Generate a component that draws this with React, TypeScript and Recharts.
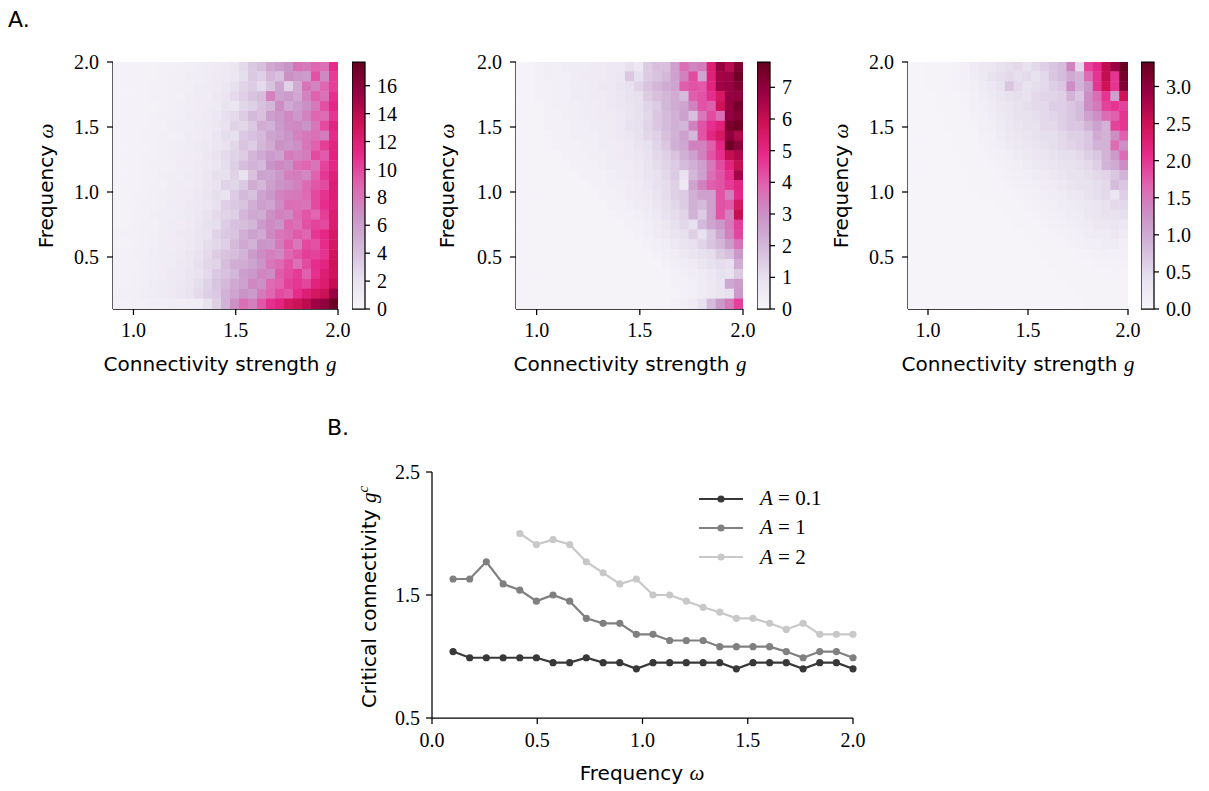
import React from "react";
import { ScatterChart, Scatter, XAxis, YAxis, BarChart, Bar, LineChart, Line, Legend } from "recharts";

const SANS = '"DejaVu Sans", sans-serif';
const SERIF = '"Liberation Serif", serif';

// heatmap grid: column centres (connectivity g) and row centres (frequency, top row first)
const G_CENTERS = [
  0.922, 0.966, 1.01, 1.054, 1.098, 1.142, 1.186, 1.23, 1.274, 1.318, 1.362, 1.406, 1.45,
  1.494, 1.538, 1.582, 1.626, 1.67, 1.714, 1.758, 1.802, 1.846, 1.89, 1.934, 1.978,
];
const OMEGA_ROWS = [
  1.962, 1.886, 1.81, 1.734, 1.658, 1.582, 1.506, 1.43, 1.354, 1.278, 1.202, 1.126, 1.05,
  0.974, 0.898, 0.822, 0.746, 0.67, 0.594, 0.518, 0.442, 0.366, 0.29, 0.214, 0.138,
];

// amplitude A = 0.1
const MAP_A01 = [
  [0.3, 0.3, 0.3, 0.4, 0.4, 0.5, 0.5, 0.6, 0.7, 0.8, 1.0, 1.1, 1.3, 1.6, 2.6, 3.6, 4.0, 5.4, 6.0, 6.6, 8.2, 7.8, 8.8, 8.4, 11.0],
  [0.3, 0.3, 0.3, 0.4, 0.4, 0.5, 0.6, 0.6, 0.8, 0.8, 1.0, 1.2, 1.4, 1.6, 2.4, 3.6, 3.2, 4.6, 4.0, 6.8, 6.4, 6.1, 9.6, 7.2, 10.4],
  [0.3, 0.3, 0.4, 0.4, 0.5, 0.5, 0.6, 0.7, 0.7, 0.9, 1.1, 1.3, 1.5, 2.2, 3.0, 3.4, 2.6, 3.8, 5.6, 3.0, 5.3, 8.1, 7.4, 8.8, 10.2],
  [0.3, 0.3, 0.3, 0.4, 0.5, 0.5, 0.6, 0.6, 0.8, 0.9, 1.0, 1.4, 1.8, 2.6, 3.2, 3.8, 4.2, 7.6, 5.8, 6.2, 5.5, 7.4, 9.0, 8.3, 10.8],
  [0.3, 0.3, 0.4, 0.4, 0.4, 0.5, 0.6, 0.7, 0.8, 1.0, 1.1, 1.2, 2.0, 1.8, 2.8, 3.2, 4.0, 4.6, 7.0, 5.4, 6.1, 6.8, 7.9, 9.6, 11.2],
  [0.3, 0.3, 0.3, 0.4, 0.5, 0.6, 0.6, 0.7, 0.9, 1.0, 1.2, 1.6, 2.2, 2.6, 3.4, 4.4, 4.0, 6.0, 6.4, 7.2, 6.3, 7.5, 8.8, 8.5, 10.6],
  [0.3, 0.3, 0.4, 0.4, 0.5, 0.5, 0.7, 0.8, 0.8, 1.1, 1.2, 1.5, 2.0, 3.0, 2.8, 3.6, 5.0, 4.8, 6.2, 7.0, 7.2, 6.6, 8.1, 9.8, 11.4],
  [0.3, 0.3, 0.3, 0.5, 0.5, 0.6, 0.6, 0.7, 0.9, 1.0, 1.3, 1.8, 2.4, 2.2, 3.6, 4.0, 4.4, 5.6, 6.0, 6.6, 7.5, 7.9, 8.3, 7.7, 11.0],
  [0.3, 0.3, 0.4, 0.4, 0.5, 0.6, 0.7, 0.8, 0.9, 1.2, 1.4, 1.6, 2.0, 2.8, 3.8, 3.4, 4.6, 5.2, 6.8, 6.4, 6.8, 8.1, 9.0, 10.3, 11.4],
  [0.3, 0.3, 0.4, 0.5, 0.5, 0.6, 0.7, 0.8, 1.0, 1.1, 1.5, 2.0, 2.6, 3.0, 3.4, 4.6, 5.4, 6.2, 5.8, 7.8, 7.4, 7.7, 9.8, 9.2, 11.6],
  [0.4, 0.4, 0.4, 0.5, 0.6, 0.6, 0.7, 0.9, 1.0, 1.2, 1.4, 1.8, 2.4, 3.2, 4.2, 4.8, 4.4, 6.6, 7.2, 6.8, 8.3, 8.8, 8.1, 10.1, 11.2],
  [0.3, 0.3, 0.4, 0.5, 0.5, 0.7, 0.8, 0.8, 1.1, 1.3, 1.6, 2.2, 2.2, 3.0, 2.0, 4.0, 5.8, 5.6, 6.4, 7.6, 7.7, 7.2, 9.0, 10.5, 11.8],
  [0.4, 0.4, 0.4, 0.5, 0.6, 0.6, 0.8, 0.9, 1.0, 1.2, 1.6, 2.0, 3.0, 2.8, 3.6, 5.2, 4.6, 6.0, 6.6, 7.0, 7.5, 8.5, 9.4, 9.8, 12.0],
  [0.4, 0.4, 0.5, 0.5, 0.6, 0.7, 0.8, 1.0, 1.1, 1.4, 1.8, 2.4, 2.0, 3.4, 4.4, 4.0, 5.6, 6.4, 7.4, 7.8, 7.9, 8.6, 9.9, 10.7, 12.0],
  [0.4, 0.4, 0.4, 0.6, 0.6, 0.7, 0.9, 1.0, 1.2, 1.4, 1.6, 2.2, 3.2, 3.6, 3.8, 5.0, 6.0, 5.6, 7.0, 8.4, 8.3, 8.1, 9.8, 10.9, 11.8],
  [0.4, 0.4, 0.5, 0.5, 0.7, 0.8, 0.8, 1.1, 1.2, 1.5, 2.0, 2.6, 3.0, 3.2, 4.6, 5.4, 5.2, 6.8, 7.6, 7.2, 8.6, 9.4, 8.8, 10.3, 12.2],
  [0.4, 0.4, 0.5, 0.6, 0.6, 0.8, 0.9, 1.0, 1.3, 1.6, 2.2, 2.4, 3.4, 4.0, 4.2, 4.6, 6.2, 7.0, 6.6, 8.8, 8.3, 9.6, 10.1, 9.9, 12.2],
  [0.5, 0.5, 0.5, 0.6, 0.7, 0.8, 1.0, 1.2, 1.4, 1.7, 2.0, 3.0, 3.6, 3.8, 5.0, 5.8, 5.4, 7.2, 8.0, 8.4, 9.2, 8.8, 10.5, 11.2, 12.6],
  [0.4, 0.4, 0.5, 0.6, 0.7, 0.9, 1.0, 1.1, 1.4, 1.8, 2.4, 2.8, 3.2, 4.4, 5.4, 4.8, 6.6, 6.4, 7.8, 9.2, 7.9, 9.9, 9.6, 11.0, 12.6],
  [0.5, 0.5, 0.6, 0.6, 0.8, 0.9, 1.1, 1.3, 1.6, 2.0, 2.6, 3.4, 3.8, 4.2, 4.8, 6.2, 7.0, 7.6, 7.2, 8.8, 9.4, 10.3, 10.1, 10.7, 13.0],
  [0.5, 0.5, 0.5, 0.7, 0.8, 1.0, 1.1, 1.4, 1.6, 2.2, 2.8, 3.0, 4.2, 5.0, 5.2, 5.8, 6.6, 8.0, 8.6, 9.6, 8.3, 9.8, 10.9, 11.4, 13.2],
  [0.5, 0.5, 0.6, 0.7, 0.8, 1.0, 1.2, 1.4, 1.8, 2.0, 2.6, 3.6, 4.0, 4.6, 6.0, 6.4, 7.4, 7.0, 9.2, 9.8, 10.4, 9.0, 10.8, 12.0, 13.0],
  [0.5, 0.5, 0.6, 0.7, 0.9, 1.1, 1.2, 1.5, 1.8, 2.4, 3.0, 3.8, 4.4, 5.4, 5.8, 7.2, 6.8, 8.6, 9.0, 10.2, 10.6, 10.0, 11.6, 12.2, 13.6],
  [0.6, 0.6, 0.6, 0.8, 0.9, 1.1, 1.3, 1.6, 2.0, 2.6, 3.2, 3.6, 4.8, 5.6, 6.6, 6.2, 7.8, 8.8, 9.8, 9.4, 11.0, 12.0, 12.8, 13.4, 15.4],
  [0.5, 0.5, 0.6, 0.6, 0.7, 0.7, 0.8, 0.8, 0.9, 1.0, 2.0, 3.2, 4.8, 6.8, 8.4, 7.6, 9.4, 10.8, 11.5, 12.8, 13.3, 14.0, 15.3, 15.8, 17.5],
];

// amplitude A = 1
const MAP_A1 = [
  [0.1, 0.1, 0.2, 0.3, 0.3, 0.4, 0.4, 0.4, 0.5, 0.5, 0.6, 0.6, 1.0, 0.6, 1.5, 1.8, 1.8, 2.6, 3.7, 3.2, 3.4, 5.3, 6.9, 6.2, 7.3],
  [0.1, 0.1, 0.2, 0.3, 0.3, 0.3, 0.4, 0.5, 0.5, 0.5, 0.6, 0.7, 1.6, 1.0, 1.5, 1.7, 2.0, 2.6, 3.3, 4.3, 2.5, 5.2, 6.6, 6.7, 7.6],
  [0.1, 0.1, 0.2, 0.2, 0.3, 0.3, 0.4, 0.4, 0.5, 0.6, 0.6, 0.8, 0.9, 1.3, 1.7, 2.0, 2.3, 2.5, 4.0, 4.2, 4.1, 5.1, 6.7, 6.8, 7.3],
  [0.1, 0.1, 0.2, 0.2, 0.3, 0.3, 0.4, 0.4, 0.5, 0.5, 0.6, 0.7, 0.9, 1.0, 1.5, 1.8, 2.0, 2.3, 1.9, 4.0, 4.2, 4.8, 5.6, 6.9, 7.0],
  [0.1, 0.1, 0.1, 0.2, 0.3, 0.3, 0.3, 0.4, 0.4, 0.5, 0.6, 0.7, 0.8, 1.0, 1.3, 1.5, 2.0, 2.3, 2.5, 3.3, 4.2, 4.0, 5.8, 6.9, 7.5],
  [0.1, 0.1, 0.1, 0.2, 0.2, 0.3, 0.3, 0.4, 0.4, 0.5, 0.5, 0.6, 0.8, 1.0, 1.2, 1.6, 1.9, 2.2, 2.6, 1.8, 3.5, 4.3, 3.7, 6.9, 7.2],
  [0.1, 0.1, 0.1, 0.2, 0.2, 0.2, 0.3, 0.3, 0.4, 0.4, 0.5, 0.6, 0.9, 1.0, 1.3, 1.6, 1.9, 2.2, 2.0, 3.3, 4.2, 4.8, 5.2, 7.4, 7.6],
  [0.1, 0.1, 0.1, 0.1, 0.2, 0.2, 0.3, 0.3, 0.3, 0.4, 0.5, 0.6, 0.7, 0.9, 1.2, 1.4, 1.8, 2.1, 2.6, 2.0, 4.2, 5.0, 5.6, 7.0, 6.4],
  [0.1, 0.1, 0.1, 0.1, 0.2, 0.2, 0.2, 0.3, 0.3, 0.4, 0.4, 0.5, 0.6, 0.8, 1.0, 1.3, 1.6, 2.2, 2.4, 3.3, 3.3, 4.0, 5.0, 7.6, 7.1],
  [0.1, 0.1, 0.1, 0.1, 0.1, 0.2, 0.2, 0.2, 0.3, 0.3, 0.4, 0.5, 0.6, 0.7, 0.9, 1.2, 1.4, 1.7, 2.2, 2.6, 3.3, 4.2, 4.8, 6.0, 6.4],
  [0.1, 0.1, 0.1, 0.1, 0.1, 0.1, 0.2, 0.2, 0.2, 0.3, 0.4, 0.4, 0.5, 0.6, 0.8, 1.1, 1.3, 1.5, 1.9, 2.2, 2.6, 3.5, 4.3, 5.1, 6.0],
  [0.1, 0.1, 0.1, 0.1, 0.1, 0.1, 0.1, 0.2, 0.2, 0.2, 0.3, 0.4, 0.5, 0.6, 0.8, 0.9, 1.2, 1.5, 0.9, 2.0, 2.6, 3.7, 4.2, 4.8, 6.6],
  [0.1, 0.1, 0.1, 0.1, 0.1, 0.1, 0.1, 0.1, 0.2, 0.2, 0.3, 0.3, 0.4, 0.5, 0.7, 0.9, 1.1, 1.4, 0.6, 2.5, 3.3, 4.0, 4.2, 4.6, 5.0],
  [0.1, 0.1, 0.1, 0.1, 0.1, 0.1, 0.1, 0.1, 0.1, 0.2, 0.2, 0.3, 0.4, 0.5, 0.6, 0.8, 1.1, 1.4, 1.5, 2.2, 2.6, 2.6, 4.2, 3.3, 4.9],
  [0.1, 0.1, 0.1, 0.1, 0.1, 0.1, 0.1, 0.1, 0.1, 0.1, 0.2, 0.2, 0.3, 0.4, 0.5, 0.7, 1.0, 1.2, 1.5, 2.2, 1.9, 2.6, 4.2, 4.1, 5.6],
  [0.1, 0.1, 0.1, 0.1, 0.1, 0.1, 0.1, 0.1, 0.1, 0.1, 0.1, 0.2, 0.2, 0.3, 0.4, 0.6, 0.9, 1.1, 1.3, 2.1, 1.5, 2.6, 4.2, 3.3, 6.0],
  [0.1, 0.1, 0.1, 0.1, 0.1, 0.1, 0.1, 0.1, 0.1, 0.1, 0.1, 0.1, 0.2, 0.2, 0.3, 0.5, 0.7, 1.0, 1.2, 1.0, 1.9, 2.5, 2.8, 3.5, 4.5],
  [0.1, 0.1, 0.1, 0.1, 0.1, 0.1, 0.1, 0.1, 0.1, 0.1, 0.1, 0.1, 0.1, 0.2, 0.3, 0.4, 0.6, 0.8, 1.0, 1.4, 0.9, 1.6, 2.4, 3.3, 4.4],
  [0.1, 0.1, 0.1, 0.1, 0.1, 0.1, 0.1, 0.1, 0.1, 0.1, 0.1, 0.1, 0.1, 0.1, 0.2, 0.3, 0.4, 0.6, 0.8, 1.0, 1.3, 1.7, 2.0, 2.7, 3.6],
  [0.1, 0.1, 0.1, 0.1, 0.1, 0.1, 0.1, 0.1, 0.1, 0.1, 0.1, 0.1, 0.1, 0.1, 0.1, 0.2, 0.3, 0.4, 0.6, 0.8, 1.0, 1.1, 1.5, 1.8, 2.8],
  [0.1, 0.1, 0.1, 0.1, 0.1, 0.1, 0.1, 0.1, 0.1, 0.1, 0.1, 0.1, 0.1, 0.1, 0.1, 0.1, 0.2, 0.3, 0.4, 0.5, 0.7, 0.9, 1.1, 1.0, 2.3],
  [0.1, 0.1, 0.1, 0.1, 0.1, 0.1, 0.1, 0.1, 0.1, 0.1, 0.1, 0.1, 0.1, 0.1, 0.1, 0.1, 0.1, 0.2, 0.3, 0.4, 0.5, 0.7, 0.9, 0.8, 1.5],
  [0.1, 0.1, 0.1, 0.1, 0.1, 0.1, 0.1, 0.1, 0.1, 0.1, 0.1, 0.1, 0.1, 0.1, 0.1, 0.1, 0.1, 0.2, 0.2, 0.3, 0.4, 0.6, 0.8, 2.4, 2.7],
  [0.1, 0.1, 0.1, 0.1, 0.1, 0.1, 0.1, 0.1, 0.1, 0.1, 0.1, 0.1, 0.1, 0.1, 0.1, 0.1, 0.1, 0.1, 0.2, 0.3, 0.4, 0.6, 0.8, 1.0, 2.8],
  [0.1, 0.1, 0.1, 0.1, 0.1, 0.1, 0.1, 0.1, 0.1, 0.1, 0.1, 0.1, 0.1, 0.1, 0.1, 0.1, 0.1, 0.2, 0.3, 0.5, 0.9, 1.9, 2.8, 3.5, 4.5],
];

// amplitude A = 2
const MAP_A2 = [
  [0.02, 0.02, 0.03, 0.04, 0.05, 0.07, 0.12, 0.22, 0.28, 0.3, 0.4, 0.45, 0.5, 0.4, 0.5, 0.6, 0.7, 0.8, 1.4, 0.5, 1.9, 2.1, 2.6, 2.9, 3.3],
  [0.02, 0.02, 0.03, 0.04, 0.05, 0.06, 0.1, 0.18, 0.25, 0.4, 0.45, 0.5, 0.45, 0.5, 0.4, 0.5, 0.7, 0.8, 1.0, 0.9, 1.6, 2.0, 2.6, 2.0, 3.2],
  [0.02, 0.02, 0.03, 0.03, 0.05, 0.06, 0.08, 0.14, 0.2, 0.28, 0.4, 0.7, 0.5, 0.4, 0.45, 0.5, 0.6, 0.7, 1.3, 0.9, 1.2, 2.0, 2.5, 2.0, 3.1],
  [0.02, 0.02, 0.02, 0.03, 0.04, 0.05, 0.07, 0.11, 0.17, 0.25, 0.33, 0.4, 0.45, 0.4, 0.5, 0.55, 0.55, 0.6, 0.9, 0.7, 1.3, 1.6, 2.0, 1.1, 2.5],
  [0.02, 0.02, 0.02, 0.03, 0.04, 0.05, 0.06, 0.1, 0.14, 0.2, 0.28, 0.33, 0.4, 0.45, 0.5, 0.5, 0.6, 0.6, 0.7, 0.8, 1.3, 1.5, 1.9, 2.0, 1.9],
  [0.02, 0.02, 0.02, 0.02, 0.03, 0.04, 0.05, 0.08, 0.11, 0.17, 0.25, 0.3, 0.4, 0.4, 0.45, 0.5, 0.55, 0.6, 0.7, 0.8, 1.1, 1.3, 1.6, 1.7, 2.0],
  [0.02, 0.02, 0.02, 0.02, 0.03, 0.04, 0.05, 0.07, 0.1, 0.14, 0.2, 0.28, 0.33, 0.4, 0.4, 0.5, 0.5, 0.6, 0.7, 0.7, 0.9, 1.1, 0.9, 1.9, 2.0],
  [0.02, 0.02, 0.02, 0.02, 0.02, 0.03, 0.04, 0.05, 0.08, 0.11, 0.17, 0.25, 0.3, 0.33, 0.4, 0.45, 0.45, 0.5, 0.6, 0.6, 0.7, 1.0, 0.9, 1.3, 1.7],
  [0.02, 0.02, 0.02, 0.02, 0.02, 0.03, 0.04, 0.05, 0.07, 0.1, 0.14, 0.2, 0.25, 0.3, 0.33, 0.4, 0.45, 0.5, 0.55, 0.6, 0.7, 0.9, 0.9, 1.6, 1.3],
  [0.02, 0.02, 0.02, 0.02, 0.02, 0.02, 0.03, 0.04, 0.05, 0.08, 0.11, 0.14, 0.2, 0.25, 0.3, 0.33, 0.4, 0.45, 0.45, 0.5, 0.6, 0.7, 0.9, 1.2, 1.6],
  [0.02, 0.02, 0.02, 0.02, 0.02, 0.02, 0.03, 0.04, 0.05, 0.06, 0.08, 0.11, 0.14, 0.2, 0.25, 0.28, 0.33, 0.4, 0.4, 0.45, 0.5, 0.6, 0.9, 1.0, 1.3],
  [0.02, 0.02, 0.02, 0.02, 0.02, 0.02, 0.02, 0.03, 0.04, 0.05, 0.06, 0.08, 0.11, 0.14, 0.2, 0.22, 0.28, 0.33, 0.4, 0.4, 0.45, 0.5, 0.55, 0.7, 0.9],
  [0.02, 0.02, 0.02, 0.02, 0.02, 0.02, 0.02, 0.03, 0.04, 0.04, 0.05, 0.06, 0.08, 0.11, 0.14, 0.17, 0.22, 0.28, 0.33, 0.4, 0.4, 0.45, 0.5, 0.8, 0.7],
  [0.02, 0.02, 0.02, 0.02, 0.02, 0.02, 0.02, 0.02, 0.03, 0.04, 0.04, 0.05, 0.06, 0.08, 0.11, 0.14, 0.17, 0.2, 0.28, 0.3, 0.4, 0.45, 0.5, 0.3, 0.6],
  [0.02, 0.02, 0.02, 0.02, 0.02, 0.02, 0.02, 0.02, 0.02, 0.02, 0.03, 0.04, 0.05, 0.06, 0.08, 0.11, 0.14, 0.17, 0.2, 0.25, 0.28, 0.33, 0.4, 0.5, 0.5],
  [0.02, 0.02, 0.02, 0.02, 0.02, 0.02, 0.02, 0.02, 0.02, 0.02, 0.02, 0.03, 0.04, 0.05, 0.06, 0.08, 0.11, 0.14, 0.17, 0.2, 0.28, 0.33, 0.4, 0.4, 0.45],
  [0.02, 0.02, 0.02, 0.02, 0.02, 0.02, 0.02, 0.02, 0.02, 0.02, 0.02, 0.02, 0.03, 0.04, 0.05, 0.06, 0.08, 0.11, 0.14, 0.17, 0.2, 0.28, 0.28, 0.33, 0.28],
  [0.02, 0.02, 0.02, 0.02, 0.02, 0.02, 0.02, 0.02, 0.02, 0.02, 0.02, 0.02, 0.02, 0.03, 0.04, 0.05, 0.06, 0.08, 0.11, 0.14, 0.17, 0.2, 0.2, 0.28, 0.2],
  [0.02, 0.02, 0.02, 0.02, 0.02, 0.02, 0.02, 0.02, 0.02, 0.02, 0.02, 0.02, 0.02, 0.02, 0.03, 0.04, 0.05, 0.06, 0.08, 0.1, 0.14, 0.14, 0.17, 0.17, 0.14],
  [0.02, 0.02, 0.02, 0.02, 0.02, 0.02, 0.02, 0.02, 0.02, 0.02, 0.02, 0.02, 0.02, 0.02, 0.02, 0.03, 0.03, 0.04, 0.05, 0.06, 0.07, 0.08, 0.1, 0.08, 0.1],
  [0.02, 0.02, 0.02, 0.02, 0.02, 0.02, 0.02, 0.02, 0.02, 0.02, 0.02, 0.02, 0.02, 0.02, 0.02, 0.02, 0.03, 0.03, 0.04, 0.05, 0.05, 0.06, 0.07, 0.06, 0.08],
  [0.02, 0.02, 0.02, 0.02, 0.02, 0.02, 0.02, 0.02, 0.02, 0.02, 0.02, 0.02, 0.02, 0.02, 0.02, 0.02, 0.02, 0.03, 0.03, 0.04, 0.04, 0.05, 0.05, 0.06, 0.05],
  [0.02, 0.02, 0.02, 0.02, 0.02, 0.02, 0.02, 0.02, 0.02, 0.02, 0.02, 0.02, 0.02, 0.02, 0.02, 0.02, 0.02, 0.02, 0.03, 0.03, 0.03, 0.04, 0.04, 0.05, 0.05],
  [0.02, 0.02, 0.02, 0.02, 0.02, 0.02, 0.02, 0.02, 0.02, 0.02, 0.02, 0.02, 0.02, 0.02, 0.02, 0.02, 0.02, 0.02, 0.02, 0.03, 0.03, 0.03, 0.04, 0.04, 0.05],
  [0.02, 0.02, 0.02, 0.02, 0.02, 0.02, 0.02, 0.02, 0.02, 0.02, 0.02, 0.02, 0.02, 0.02, 0.02, 0.02, 0.02, 0.02, 0.02, 0.02, 0.03, 0.03, 0.03, 0.04, 0.04],
];

// panel B: critical connectivity vs frequency
const OMEGA_B = [
  0.1, 0.179, 0.258, 0.338, 0.417, 0.496, 0.575, 0.654, 0.733, 0.813, 0.892, 0.971, 1.05,
  1.129, 1.208, 1.288, 1.367, 1.446, 1.525, 1.604, 1.683, 1.763, 1.842, 1.921, 2.0,
];
const GC_A01 = [
  1.04, 0.99, 0.99, 0.99, 0.99, 0.99, 0.95, 0.95, 0.99, 0.95, 0.95, 0.9, 0.95,
  0.95, 0.95, 0.95, 0.95, 0.9, 0.95, 0.95, 0.95, 0.9, 0.95, 0.95, 0.9,
];
const GC_A1 = [
  1.63, 1.63, 1.77, 1.59, 1.54, 1.45, 1.5, 1.45, 1.31, 1.27, 1.27, 1.18, 1.18,
  1.13, 1.13, 1.13, 1.08, 1.08, 1.08, 1.08, 1.04, 0.99, 1.04, 1.04, 0.99,
];
const GC_A2 = [
  null, null, null, null, 2.0, 1.91, 1.95, 1.91, 1.77, 1.68, 1.59, 1.63, 1.5,
  1.5, 1.45, 1.4, 1.36, 1.31, 1.31, 1.27, 1.22, 1.27, 1.18, 1.18, 1.18,
];

const PURD = ["#f7f4f9", "#e7e1ef", "#d4b9da", "#c994c7", "#df65b0", "#e7298a", "#ce1256", "#980043", "#67001f"];
const PURD_RGB = PURD.map((h) => {
  const n = parseInt(h.slice(1), 16);
  return [(n >> 16) & 255, (n >> 8) & 255, n & 255];
});

function purd(t: number) {
  const x = Math.max(0, Math.min(1, t)) * (PURD.length - 1);
  const i = Math.min(Math.floor(x), PURD.length - 2);
  const f = x - i;
  const a = PURD_RGB[i];
  const b = PURD_RGB[i + 1];
  return `rgb(${a.map((v, k) => Math.round(v + (b[k] - v) * f)).join(",")})`;
}

const PLOT_TOP = 62;
const PLOT_H = 247;

const tickFont = { fontFamily: SERIF, fontSize: 20, fill: "#000" };
const axisLine = { stroke: "#000", strokeWidth: 1.25 };
const tickLine = { stroke: "#000", strokeWidth: 1.25 };

const PANELS = [
  { id: "a01", rows: MAP_A01, vmax: 17.7, cbTicks: [0, 2, 4, 6, 8, 10, 12, 14, 16], cbDigits: 0, plotLeft: 113, plotW: 225, cbLeft: 352, yLabelX: 46, xLabelX: 220 },
  { id: "a1", rows: MAP_A1, vmax: 7.8, cbTicks: [0, 1, 2, 3, 4, 5, 6, 7], cbDigits: 0, plotLeft: 516, plotW: 227, cbLeft: 757, yLabelX: 447, xLabelX: 630 },
  { id: "a2", rows: MAP_A2, vmax: 3.33, cbTicks: [0, 0.5, 1, 1.5, 2, 2.5, 3], cbDigits: 1, plotLeft: 908, plotW: 220, cbLeft: 1141, yLabelX: 841, xLabelX: 1018 },
];

type Panel = (typeof PANELS)[number];

const Label = ({ x, y, rotate, children }: { x: number; y: number; rotate?: boolean; children: React.ReactNode }) => (
  <div
    style={{
      position: "absolute",
      left: x,
      top: y,
      transform: `translate(-50%, -50%)${rotate ? " rotate(-90deg)" : ""}`,
      whiteSpace: "nowrap",
      fontFamily: SANS,
      fontSize: 20,
      lineHeight: 1,
      color: "#000",
    }}
  >
    {children}
  </div>
);

const Mi = ({ children }: { children: React.ReactNode }) => (
  <span style={{ fontFamily: SERIF, fontStyle: "italic", fontSize: 21 }}>{children}</span>
);

function Heatmap({ p }: { p: Panel }) {
  const yw = 90;
  const rightPad = 24;
  const cellW = p.plotW / G_CENTERS.length;
  const cellH = PLOT_H / OMEGA_ROWS.length;
  const cells: { g: number; w: number; v: number }[] = [];
  p.rows.forEach((row, r) => row.forEach((v, c) => cells.push({ g: G_CENTERS[c], w: OMEGA_ROWS[r], v })));
  const height = 380;
  return (
    <div style={{ position: "absolute", left: p.plotLeft - yw, top: 0 }}>
      <ScatterChart
        width={p.plotW + yw + rightPad}
        height={height}
        margin={{ top: PLOT_TOP, right: rightPad, bottom: height - PLOT_TOP - PLOT_H - 60, left: 0 }}
      >
        <XAxis
          type="number"
          dataKey="g"
          domain={[0.9, 2.0]}
          ticks={[1.0, 1.5, 2.0]}
          tickFormatter={(v: number) => v.toFixed(1)}
          height={60}
          tick={tickFont}
          tickSize={6}
          tickMargin={8}
          axisLine={axisLine}
          tickLine={tickLine}
          interval={0}
          allowDataOverflow
        />
        <YAxis
          type="number"
          dataKey="w"
          domain={[0.1, 2.0]}
          ticks={[0.5, 1.0, 1.5, 2.0]}
          tickFormatter={(v: number) => v.toFixed(1)}
          width={yw}
          tick={tickFont}
          tickSize={6}
          tickMargin={8}
          axisLine={axisLine}
          tickLine={tickLine}
          interval={0}
          allowDataOverflow
        />
        <Scatter
          data={cells}
          isAnimationActive={false}
          shape={(s: any) => (
            <rect
              x={s.cx - cellW / 2}
              y={s.cy - cellH / 2 - 0.5}
              width={cellW + 0.5}
              height={cellH + 0.5}
              fill={purd(s.payload.v / p.vmax)}
            />
          )}
        />
      </ScatterChart>
    </div>
  );
}

function Colorbar({ p }: { p: Panel }) {
  const cbW = 13;
  const yw = 60;
  const height = 330;
  return (
    <div style={{ position: "absolute", left: p.cbLeft, top: 0 }}>
      <BarChart
        width={cbW + yw}
        height={height}
        data={[{ name: p.id, v: p.vmax }]}
        margin={{ top: PLOT_TOP, right: 0, bottom: height - PLOT_TOP - PLOT_H, left: 0 }}
        barCategoryGap={0}
      >
        <XAxis dataKey="name" hide />
        <YAxis
          orientation="right"
          type="number"
          domain={[0, p.vmax]}
          ticks={p.cbTicks}
          interval={0}
          tickFormatter={(v: number) => v.toFixed(p.cbDigits)}
          width={yw}
          tick={{ ...tickFont, textAnchor: "start" }}
          tickSize={5}
          tickMargin={7}
          axisLine={false}
          tickLine={tickLine}
        />
        <Bar dataKey="v" fill={`url(#cb-${p.id})`} stroke="#000" strokeWidth={1.25} isAnimationActive={false} />
      </BarChart>
    </div>
  );
}

const LINE_ROWS = OMEGA_B.map((w, i) => ({ w, a01: GC_A01[i], a1: GC_A1[i], a2: GC_A2[i] }));

const SERIES = [
  { key: "a01", name: "0.1", color: "#383838" },
  { key: "a1", name: "1", color: "#808080" },
  { key: "a2", name: "2", color: "#c8c8c8" },
];

const LegendBox = (props: any) => {
  const items = props.payload || [];
  return (
    <div>
      {items.map((it: any) => (
        <div key={it.value} style={{ display: "flex", alignItems: "center", height: 29.3 }}>
          <svg width={46} height={12} style={{ overflow: "visible" }}>
            <line x1={1} y1={6} x2={45} y2={6} stroke={it.color} strokeWidth={2.2} />
            <circle cx={23} cy={6} r={3.6} fill={it.color} />
          </svg>
          <span style={{ marginLeft: 16, fontFamily: SERIF, fontSize: 21, whiteSpace: "nowrap" }}>
            <i>A</i> = {it.value}
          </span>
        </div>
      ))}
    </div>
  );
};

function CriticalChart() {
  const left = 332;
  const top = 400;
  const yw = 100;
  const rightPad = 24;
  return (
    <div style={{ position: "absolute", left, top }}>
      <LineChart width={521 + rightPad} height={362} data={LINE_ROWS} margin={{ top: 72, right: rightPad, bottom: 4, left: 0 }}>
        <XAxis
          type="number"
          dataKey="w"
          domain={[0, 2]}
          ticks={[0, 0.5, 1, 1.5, 2]}
          tickFormatter={(v: number) => v.toFixed(1)}
          height={40}
          tick={tickFont}
          tickSize={6}
          tickMargin={9}
          axisLine={axisLine}
          tickLine={tickLine}
          interval={0}
        />
        <YAxis
          type="number"
          domain={[0.5, 2.5]}
          ticks={[0.5, 1.5, 2.5]}
          tickFormatter={(v: number) => v.toFixed(1)}
          width={yw}
          tick={tickFont}
          tickSize={6}
          tickMargin={6}
          axisLine={axisLine}
          tickLine={tickLine}
          interval={0}
        />
        {SERIES.map((s) => (
          <Line
            key={s.key}
            dataKey={s.key}
            name={s.name}
            stroke={s.color}
            strokeWidth={2.2}
            dot={{ r: 3.6, fill: s.color, stroke: "none" }}
            connectNulls={false}
            isAnimationActive={false}
          />
        ))}
        <Legend
          layout="vertical"
          align="center"
          verticalAlign="middle"
          content={<LegendBox />}
          wrapperStyle={{ left: 698 - left, top: 484 - top, width: 160, height: 90 }}
        />
      </LineChart>
    </div>
  );
}

export default function App() {
  return (
    <div style={{ position: "absolute", left: 0, top: 0, width: 1209, height: 791, background: "#fff", overflow: "hidden" }}>
      <svg width={0} height={0} style={{ position: "absolute" }}>
        <defs>
          {PANELS.map((p) => (
            <linearGradient key={p.id} id={`cb-${p.id}`} x1="0" y1="1" x2="0" y2="0">
              {PURD.map((c, i) => (
                <stop key={c} offset={i / (PURD.length - 1)} stopColor={c} />
              ))}
            </linearGradient>
          ))}
        </defs>
      </svg>

      <div style={{ position: "absolute", left: 8, top: 7, fontFamily: SANS, fontSize: 22 }}>A.</div>
      <div style={{ position: "absolute", left: 327, top: 415, fontFamily: SANS, fontSize: 22 }}>B.</div>

      {PANELS.map((p) => (
        <React.Fragment key={p.id}>
          <Heatmap p={p} />
          <Colorbar p={p} />
          <Label x={p.yLabelX} y={186} rotate>
            Frequency <Mi>ω</Mi>
          </Label>
          <Label x={p.xLabelX} y={364}>
            Connectivity strength <Mi>g</Mi>
          </Label>
        </React.Fragment>
      ))}

      <CriticalChart />
      <Label x={368} y={597} rotate>
        Critical connectivity <Mi>g</Mi>
        <sup style={{ fontFamily: SERIF, fontStyle: "italic", fontSize: 15 }}>c</sup>
      </Label>
      <Label x={642} y={773}>
        Frequency <Mi>ω</Mi>
      </Label>
    </div>
  );
}
